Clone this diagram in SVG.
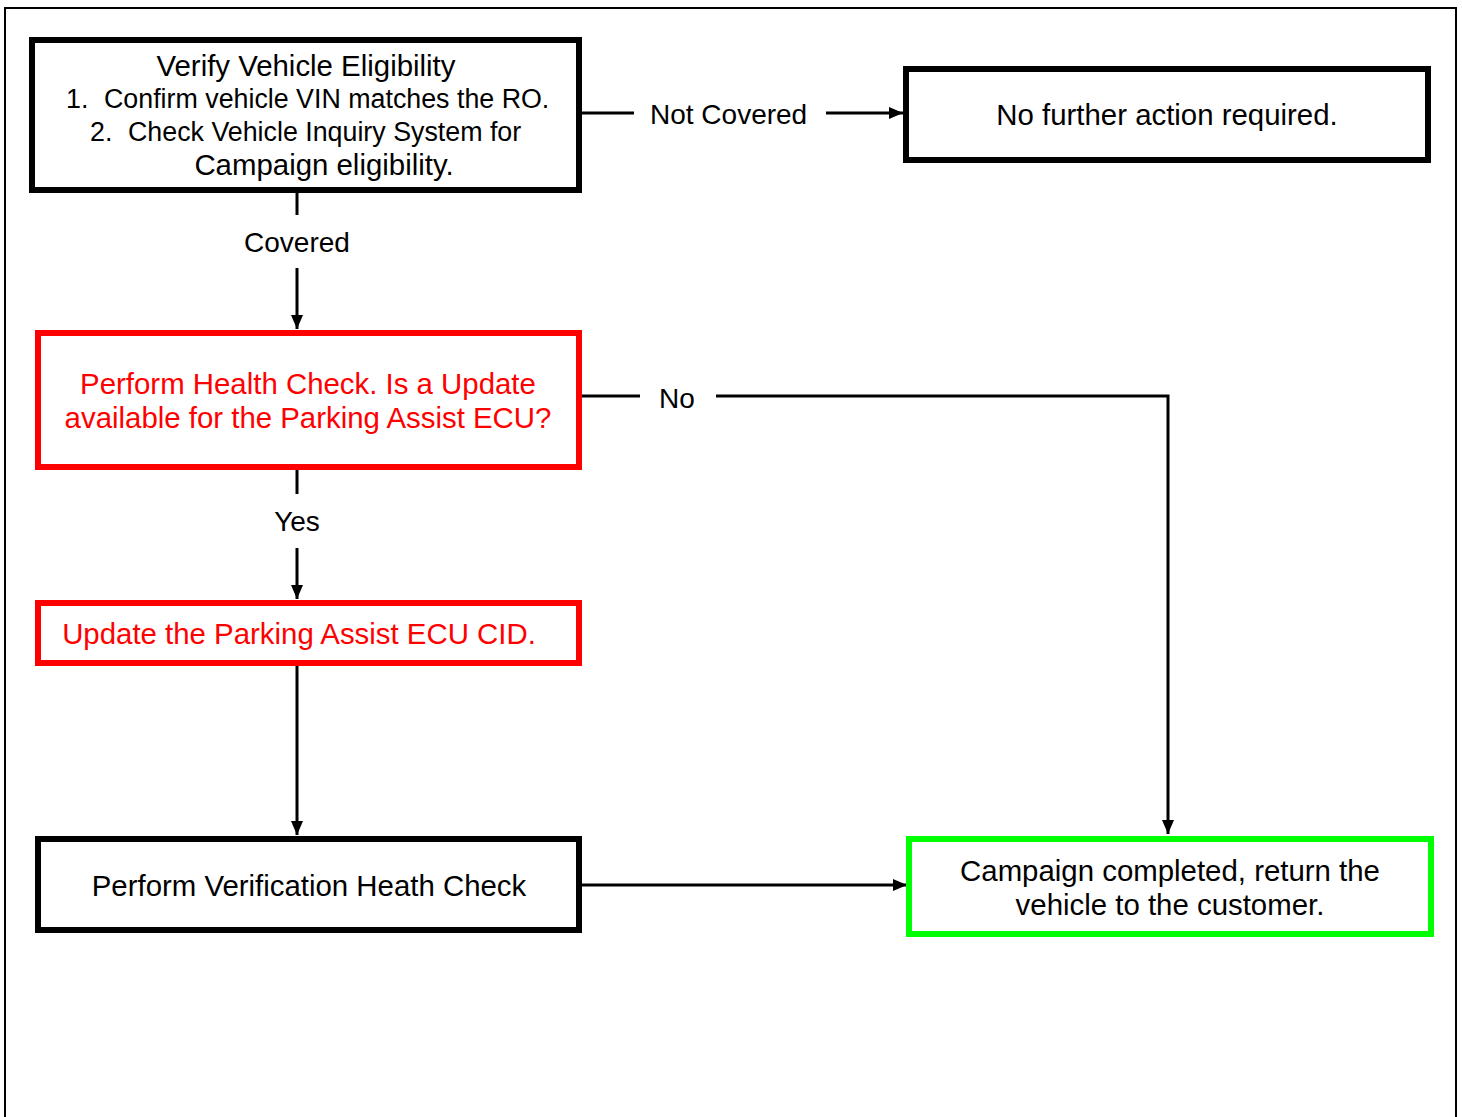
<svg xmlns="http://www.w3.org/2000/svg" width="1462" height="1117" viewBox="0 0 1462 1117">
<style>
text{font-family:"Liberation Sans",Arial,sans-serif;font-size:28px;fill:#000}
.b{font-size:29.4px}
.s{font-size:26.8px}
.red{fill:#ff0000}
.box{fill:#fff;stroke-width:6}
.k{stroke:#000}
.r{stroke:#ff0000}
.g{stroke:#00ff00}
.c{fill:none;stroke:#000;stroke-width:3}
.m{text-anchor:middle}
</style>
<defs>
<marker id="ah" markerUnits="userSpaceOnUse" markerWidth="14" markerHeight="14" viewBox="0 0 14 14" refX="14" refY="7" orient="auto">
<path d="M0,1 L14,7 L0,13 Z" fill="#000"/>
</marker>
</defs>
<rect x="0" y="0" width="1462" height="1117" fill="#fff"/>
<path d="M5,1117 V8 H1456 V1117" fill="none" stroke="#000" stroke-width="2"/>
<g id="connectors">
<line class="c" x1="582" y1="113" x2="634" y2="113"/>
<line class="c" x1="826" y1="113" x2="903" y2="113" marker-end="url(#ah)"/>
<line class="c" x1="297" y1="193" x2="297" y2="215"/>
<line class="c" x1="297" y1="268" x2="297" y2="329" marker-end="url(#ah)"/>
<line class="c" x1="582" y1="396" x2="640" y2="396"/>
<polyline class="c" points="716,396 1168,396 1168,834" marker-end="url(#ah)"/>
<line class="c" x1="297" y1="470" x2="297" y2="494"/>
<line class="c" x1="297" y1="548" x2="297" y2="599" marker-end="url(#ah)"/>
<line class="c" x1="297" y1="666" x2="297" y2="835" marker-end="url(#ah)"/>
<line class="c" x1="582" y1="885" x2="907" y2="885" marker-end="url(#ah)"/>
<text x="650" y="124">Not Covered</text>
<text class="m" x="297" y="252">Covered</text>
<text x="659" y="408">No</text>
<text class="m" x="297" y="531">Yes</text>
</g>
<g id="verify">
<rect class="box k" x="32" y="40" width="547" height="150"/>
<text class="m b" x="306" y="76">Verify Vehicle Eligibility</text>
<text class="s" y="108"><tspan x="66">1.</tspan><tspan x="104">Confirm vehicle VIN matches the RO.</tspan></text>
<text class="s" y="141"><tspan x="90">2.</tspan><tspan x="128">Check Vehicle Inquiry System for</tspan></text>
<text class="m b" x="324" y="175">Campaign eligibility.</text>
</g>
<g id="no-action">
<rect class="box k" x="906" y="69" width="522" height="91"/>
<text class="m b" x="1167" y="125">No further action required.</text>
</g>
<g id="health-check">
<rect class="box r" x="38" y="333" width="541" height="134"/>
<text class="m b red" x="308" y="394">Perform Health Check. Is a Update</text>
<text class="m b red" x="308" y="428">available for the Parking Assist ECU?</text>
</g>
<g id="update">
<rect class="box r" x="38" y="603" width="541" height="60"/>
<text class="m b red" x="299" y="644">Update the Parking Assist ECU CID.</text>
</g>
<g id="verification">
<rect class="box k" x="38" y="839" width="541" height="91"/>
<text class="m b" x="309" y="896">Perform Verification Heath Check</text>
</g>
<g id="complete">
<rect class="box g" x="909" y="839" width="522" height="95" stroke-width="5"/>
<text class="m b" x="1170" y="881">Campaign completed, return the</text>
<text class="m b" x="1170" y="915">vehicle to the customer.</text>
</g>
</svg>
